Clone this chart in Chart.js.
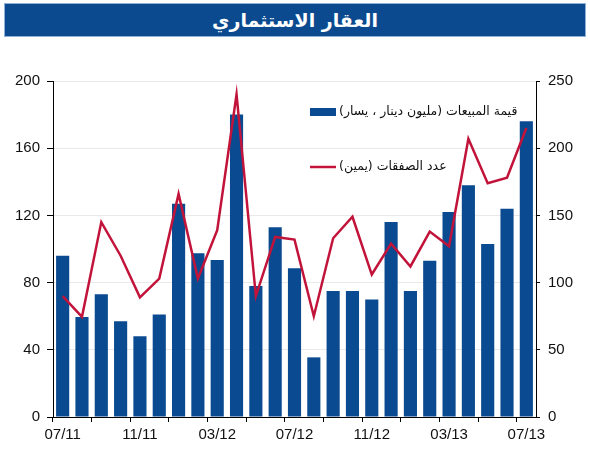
<!DOCTYPE html>
<html>
<head>
<meta charset="utf-8">
<script src="https://cdn.jsdelivr.net/npm/chart.js@4.4.1/dist/chart.umd.min.js"></script>
<style>
  html, body { margin: 0; padding: 0; background: #fff; }
  #wrap { position: relative; width: 590px; height: 450px; }
  #banner {
    position: absolute; left: 4px; top: 3px; width: 580px; height: 32px;
    background: #0b4a8f; border: 1px solid #8fb0d8;
    color: #fff; font: bold 19px "DejaVu Sans", sans-serif;
    text-align: center; line-height: 32px; direction: rtl;
  }
  canvas { position: absolute; left: 0; top: 0; }
</style>
</head>
<body>
<div id="wrap">
  <canvas id="chart" width="590" height="450"></canvas>
  <div id="banner">العقار الاستثماري</div>
</div>
<script>
// months 07/11 .. 07/13
const months = ['07/11', '08/11', '09/11', '10/11', '11/11', '12/11', '01/12', '02/12', '03/12',
    '04/12', '05/12', '06/12', '07/12', '08/12', '09/12', '10/12', '11/12', '12/12',
    '01/13', '02/13', '03/13', '04/13', '05/13', '06/13', '07/13'];
// sales value, million dinar (left axis)
const salesValue = [96, 59.5, 73, 57, 48, 61, 127, 97.5, 93.5, 180, 78, 113, 88.5,
    35.5, 75, 75, 70, 116, 75, 93, 122, 138, 103, 124, 176];
// number of deals (right axis)
const dealCount = [90, 74.5, 145, 120, 89, 103, 166, 103, 139, 240, 90, 134, 132,
    75, 133, 149, 106, 129, 112, 138, 127, 207, 174, 178, 215];
const leftTicks = [0, 40, 80, 120, 160, 200];
const rightTicks = [0, 50, 100, 150, 200, 250];

const salesLabel = 'قيمة المبيعات (مليون دينار ، يسار)';
const dealsLabel = 'عدد الصفقات (يمين)';

const barColor = '#0a4a90';
const lineColor = '#c2143a';
const tickFont = { family: '"Liberation Sans", Arial, sans-serif', size: 15 };

// legend drawn inside the plot area, top right (bars first, then line)
const insideLegend = {
    id: 'insideLegend',
    afterDraw(chart) {
        const ctx = chart.ctx;
        const items = chart.data.datasets.slice().sort((a, b) => b.order - a.order);
        const x0 = 310;
        const rows = [112, 167];
        ctx.save();
        ctx.font = '12.5px "DejaVu Sans", sans-serif';
        ctx.textBaseline = 'middle';
        ctx.direction = 'rtl';
        ctx.textAlign = 'left';
        items.forEach((ds, i) => {
            const y = rows[i];
            if (ds.type === 'line') {
                ctx.strokeStyle = ds.borderColor;
                ctx.lineWidth = 2.5;
                ctx.beginPath();
                ctx.moveTo(x0, y);
                ctx.lineTo(x0 + 26, y);
                ctx.stroke();
            } else {
                ctx.fillStyle = ds.backgroundColor;
                ctx.fillRect(x0, y - 4, 26, 8);
            }
            ctx.fillStyle = '#111';
            ctx.fillText(ds.label, x0 + 29, y);
        });
        ctx.restore();
    }
};

new Chart(document.getElementById('chart'), {
    data: {
        labels: months,
        datasets: [
            {
                type: 'line',
                label: dealsLabel,
                data: dealCount,
                yAxisID: 'yRight',
                borderColor: lineColor,
                borderWidth: 2.5,
                pointRadius: 0,
                tension: 0,
                order: 0
            },
            {
                type: 'bar',
                label: salesLabel,
                data: salesValue,
                yAxisID: 'yLeft',
                backgroundColor: barColor,
                categoryPercentage: 1,
                barPercentage: 0.68,
                order: 1
            }
        ]
    },
    options: {
        responsive: false,
        animation: false,
        layout: { padding: { top: 81, left: 0, right: 0, bottom: 0 } },
        plugins: {
            legend: { display: false },
            tooltip: { enabled: false }
        },
        scales: {
            x: {
                offset: true,
                afterFit: (s) => { s.height = 33; },
                grid: {
                    offset: true,
                    drawOnChartArea: false,
                    tickLength: 5,
                    color: (c) => (c.index % 2 === 0 ? '#000' : 'rgba(0,0,0,0)')
                },
                border: { display: true, color: '#000', width: 1 },
                ticks: {
                    autoSkip: false,
                    maxRotation: 0,
                    color: '#111',
                    font: tickFont,
                    padding: 4,
                    callback: (v, i) => (i % 4 === 0 ? months[i] : '')
                }
            },
            yLeft: {
                position: 'left',
                min: 0,
                max: 200,
                afterFit: (s) => { s.width = 53; },
                afterBuildTicks: (s) => { s.ticks = leftTicks.map((v) => ({ value: v })); },
                grid: { color: '#e9e9e9', tickColor: '#000', tickLength: 6 },
                border: { display: true, color: '#000', width: 1 },
                ticks: { color: '#111', font: tickFont, padding: 7 }
            },
            yRight: {
                position: 'right',
                min: 0,
                max: 250,
                afterFit: (s) => { s.width = 54; },
                afterBuildTicks: (s) => { s.ticks = rightTicks.map((v) => ({ value: v })); },
                grid: { drawOnChartArea: false, tickColor: '#000', tickLength: 4 },
                border: { display: true, color: '#000', width: 1 },
                ticks: { color: '#111', font: tickFont, padding: 8 }
            }
        }
    },
    plugins: [insideLegend]
});
</script>
</body>
</html>
